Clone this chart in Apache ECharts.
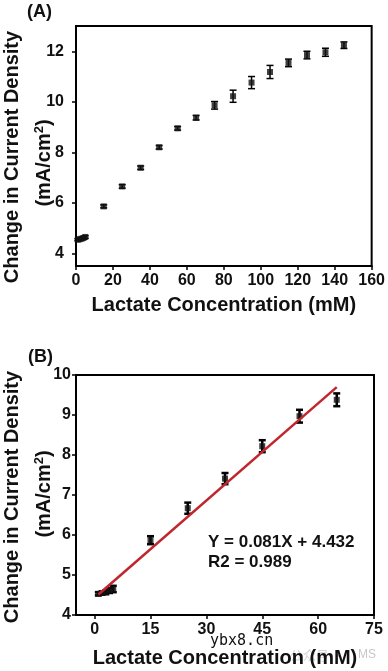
<!DOCTYPE html>
<html>
<head>
<meta charset="utf-8">
<script src="https://cdn.jsdelivr.net/npm/echarts@6/dist/echarts.min.js"></script>
<style>html,body{margin:0;padding:0;background:#fff}#c{width:388px;height:671px}</style>
</head>
<body>
<div id="c"></div>
<script>
// ---- Data ----
var concA = [1, 2, 3, 4, 5, 15, 25, 35, 45, 55, 65, 75, 85, 95, 105, 115, 125, 135, 145];
var densityA = [4.54, 4.56, 4.58, 4.61, 4.65, 5.86, 6.65, 7.39, 8.20, 8.95, 9.37, 9.86, 10.22, 10.76, 11.18, 11.54, 11.85, 11.96, 12.24];
var errA = [0.04, 0.04, 0.04, 0.05, 0.05, 0.06, 0.07, 0.07, 0.07, 0.07, 0.09, 0.15, 0.24, 0.24, 0.26, 0.15, 0.15, 0.16, 0.13];

var concB = [1, 2, 3, 4, 5, 15, 25, 35, 45, 55, 65];
var densityB = [4.53, 4.55, 4.57, 4.61, 4.65, 5.87, 6.67, 7.41, 8.22, 8.97, 9.38];
var errB = [0.04, 0.04, 0.05, 0.06, 0.08, 0.10, 0.14, 0.14, 0.15, 0.16, 0.16];

var fitSlope = 0.081, fitIntercept = 4.432;
var fitRange = [1, 65];

var xTicksA = [0, 20, 40, 60, 80, 100, 120, 140, 160];
var yTicksA = [4, 6, 8, 10, 12];
var xTicksB = [0, 15, 30, 45, 60, 75];
var yTicksB = [4, 5, 6, 7, 8, 9, 10];

// ---- Build ----
var FONT = 'Liberation Sans, Arial, sans-serif';
function zip3(a, b, c) { return a.map(function (v, i) { return [v, b[i], c[i]]; }); }
function zip2(a, b) { return a.map(function (v, i) { return [v, b[i]]; }); }
function errRender(lw, hw) {
  return function (params, api) {
    var x = api.value(0), y = api.value(1), e = api.value(2);
    var t = api.coord([x, y + e]), b = api.coord([x, y - e]);
    var st = { stroke: '#000', lineWidth: lw };
    return { type: 'group', children: [
      { type: 'line', shape: { x1: t[0], y1: t[1], x2: b[0], y2: b[1] }, style: st },
      { type: 'line', shape: { x1: t[0] - hw, y1: t[1], x2: t[0] + hw, y2: t[1] }, style: st },
      { type: 'line', shape: { x1: b[0] - hw, y1: b[1], x2: b[0] + hw, y2: b[1] }, style: st }
    ] };
  };
}
var axisLine = { show: true, onZero: false, lineStyle: { color: '#000', width: 2 } };
var tickStyle = { show: true, inside: false, length: 4, lineStyle: { color: '#000', width: 1.5 } };
var labelStyle = { color: '#111', fontFamily: FONT, fontWeight: 'bold', fontSize: 16 };
var nameStyle = { color: '#111', fontFamily: FONT, fontWeight: 'bold', fontSize: 20 };

var option = {
  backgroundColor: '#fff',
  animation: false,
  grid: [
    { left: 76, right: 14, top: 26, height: 240, show: true, borderColor: '#000', borderWidth: 2, backgroundColor: 'transparent' },
    { left: 76, right: 14, top: 375, height: 240, show: true, borderColor: '#000', borderWidth: 2, backgroundColor: 'transparent' }
  ],
  xAxis: [
    { gridIndex: 0, type: 'value', min: 0, max: 160, interval: 20,
      axisLine: axisLine, axisTick: Object.assign({}, tickStyle, { customValues: xTicksA }),
      axisLabel: Object.assign({ margin: 7, customValues: xTicksA }, labelStyle), splitLine: { show: false },
      name: 'Lactate Concentration (mM)', nameLocation: 'middle', nameGap: 29, nameTextStyle: nameStyle },
    { gridIndex: 1, type: 'value', min: -5, max: 75,
      axisLine: axisLine, axisTick: Object.assign({}, tickStyle, { customValues: xTicksB }),
      axisLabel: Object.assign({ margin: 7, customValues: xTicksB }, labelStyle), splitLine: { show: false },
      name: 'Lactate Concentration (mM)', nameLocation: 'middle', nameGap: 33, nameTextStyle: nameStyle }
  ],
  yAxis: [
    { gridIndex: 0, type: 'value', min: 3.5, max: 13,
      axisLine: axisLine, axisTick: Object.assign({}, tickStyle, { customValues: yTicksA }),
      axisLabel: Object.assign({ margin: 12, customValues: yTicksA }, labelStyle), splitLine: { show: false } },
    { gridIndex: 1, type: 'value', min: 4, max: 10, interval: 1,
      axisLine: axisLine, axisTick: Object.assign({}, tickStyle, { customValues: yTicksB }),
      axisLabel: Object.assign({ margin: 5, customValues: yTicksB }, labelStyle), splitLine: { show: false } }
  ],
  series: [
    { type: 'custom', xAxisIndex: 0, yAxisIndex: 0, renderItem: errRender(1.5, 3.5), data: zip3(concA, densityA, errA), z: 3 },
    { type: 'scatter', xAxisIndex: 0, yAxisIndex: 0, symbol: 'rect', symbolSize: 6, itemStyle: { color: '#111' }, data: zip2(concA, densityA), z: 4 },
    { type: 'custom', xAxisIndex: 1, yAxisIndex: 1, renderItem: errRender(2.5, 3.5), data: zip3(concB, densityB, errB), z: 3 },
    { type: 'scatter', xAxisIndex: 1, yAxisIndex: 1, symbol: 'rect', symbolSize: 6, itemStyle: { color: '#111' }, data: zip2(concB, densityB), z: 4 },
    { type: 'line', xAxisIndex: 1, yAxisIndex: 1, showSymbol: false, symbol: 'none',
      lineStyle: { color: '#c0262d', width: 2.5 },
      data: fitRange.map(function (x) { return [x, fitSlope * x + fitIntercept]; }), z: 5 }
  ],
  graphic: [
    { type: 'text', x: 27, y: 12, style: { text: '(A)', font: 'bold 18px ' + FONT, fill: '#111', verticalAlign: 'middle' } },
    { type: 'text', x: 28, y: 357, style: { text: '(B)', font: 'bold 18px ' + FONT, fill: '#111', verticalAlign: 'middle' } },
    { type: 'text', x: 12, y: 157, rotation: Math.PI / 2, style: { text: 'Change in Current Density', font: 'bold 20px ' + FONT, fill: '#111', align: 'center', verticalAlign: 'middle' } },
    { type: 'text', x: 44, y: 163, rotation: Math.PI / 2, style: { text: '{b|(mA/cm}{s|2}{b|)}', align: 'center', verticalAlign: 'middle',
      rich: { b: { font: 'bold 20px ' + FONT, fill: '#111' }, s: { font: 'bold 13px ' + FONT, fill: '#111', padding: [0, 0, 10, 0] } } } },
    { type: 'text', x: 12, y: 497, rotation: Math.PI / 2, style: { text: 'Change in Current Density', font: 'bold 20px ' + FONT, fill: '#111', align: 'center', verticalAlign: 'middle' } },
    { type: 'text', x: 44, y: 494, rotation: Math.PI / 2, style: { text: '{b|(mA/cm}{s|2}{b|)}', align: 'center', verticalAlign: 'middle',
      rich: { b: { font: 'bold 20px ' + FONT, fill: '#111' }, s: { font: 'bold 13px ' + FONT, fill: '#111', padding: [0, 0, 10, 0] } } } },
    { type: 'text', x: 208, y: 542, style: { text: 'Y = 0.081X + 4.432', font: 'bold 17px ' + FONT, fill: '#111', verticalAlign: 'middle' } },
    { type: 'text', x: 208, y: 562, style: { text: 'R2 = 0.989', font: 'bold 17px ' + FONT, fill: '#111', verticalAlign: 'middle' } },
    { type: 'text', x: 210, y: 641, z: -1, style: { text: 'ybx8.cn', font: '15px DejaVu Sans Mono, monospace', fill: '#111', verticalAlign: 'middle' } },
    { type: 'text', x: 290, y: 655, z: -10, style: { text: '公众号 · ', font: '13px Noto Sans CJK SC, sans-serif', fill: '#d4d4d4', verticalAlign: 'middle' } },
    { type: 'text', x: 358, y: 655, z: -10, style: { text: 'MS', font: '12px Liberation Sans, sans-serif', fill: '#c8c8c8', verticalAlign: 'middle' } }
  ]
};
var chart = echarts.init(document.getElementById('c'), null, { renderer: 'canvas' });
chart.setOption(option);
</script>
</body>
</html>
